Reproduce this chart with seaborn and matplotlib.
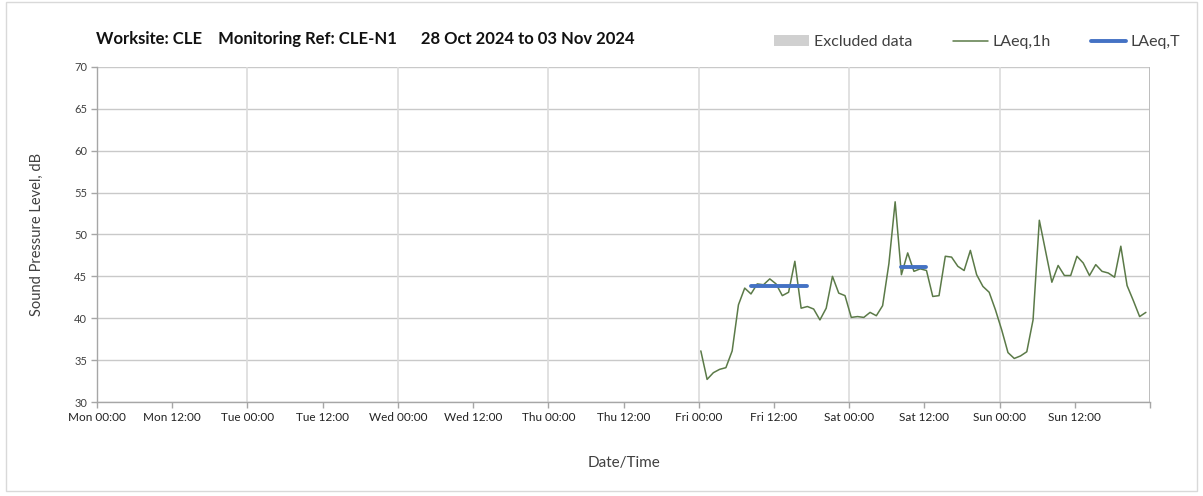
import matplotlib
matplotlib.use("Agg")
import matplotlib.pyplot as plt
from matplotlib.patches import Patch, Rectangle
from matplotlib.lines import Line2D
import seaborn as sns
import pandas as pd

# hourly LAeq,1h values, Fri 01 Nov 00:20 onwards
start_time = "2024-11-01 00:20"
laeq_1h = [36.1, 32.7, 33.5, 33.9, 34.1, 36.1, 41.6, 43.6, 42.9, 44.1,
           44.0, 44.7, 44.1, 42.7, 43.1, 46.8, 41.2, 41.4, 41.1, 39.8,
           41.2, 45.0, 43.0, 42.7, 40.1, 40.2, 40.1, 40.7, 40.3, 41.5,
           46.5, 53.9, 45.2, 47.8, 45.6, 45.9, 45.7, 42.6, 42.7, 47.4,
           47.3, 46.2, 45.7, 48.1, 45.2, 43.8, 43.1, 41.0, 38.6, 35.9,
           35.2, 35.5, 36.0, 39.8, 51.7, 48.0, 44.3, 46.3, 45.1, 45.1,
           47.4, 46.6, 45.1, 46.4, 45.6, 45.4, 44.9, 48.6, 43.9, 42.1,
           40.2, 40.7]

# LAeq,T periods (start, end, level)
laeq_t_start = ["2024-11-01 08:20", "2024-11-02 08:20"]
laeq_t_end = ["2024-11-01 17:20", "2024-11-02 12:20"]
laeq_t_value = [43.8, 46.1]

week_start = "2024-10-28 00:00"
week_end = "2024-11-04 00:00"
y_ticks = [30, 35, 40, 45, 50, 55, 60, 65, 70]

title = "Worksite: CLE    Monitoring Ref: CLE-N1      28 Oct 2024 to 03 Nov 2024"

green = "#5b7a48"
blue = "#4472c4"
grey_text = "#404040"

sns.set_theme(style="white")
plt.rcParams['font.family'] = ['Lato', 'DejaVu Sans']

df = pd.DataFrame({
    "time": pd.date_range(start_time, periods=len(laeq_1h), freq="h"),
    "level": laeq_1h,
})

rows = []
for i in range(len(laeq_t_value)):
    rows.append((i, pd.Timestamp(laeq_t_start[i]), laeq_t_value[i]))
    rows.append((i, pd.Timestamp(laeq_t_end[i]), laeq_t_value[i]))
df_t = pd.DataFrame(rows, columns=["period", "time", "level"])

fig = plt.figure(figsize=(12.03, 4.96), dpi=100)
ax = fig.add_axes([0.0806, 0.1895, 0.8754, 0.6755])

# gridlines
for v in y_ticks:
    ax.axhline(v, color="#c9c9c9", lw=1.0, zorder=0)
for d in pd.date_range(week_start, week_end, freq="D"):
    ax.axvline(d, color="#dcdcdc", lw=1.2, zorder=0)

sns.lineplot(data=df, x="time", y="level", ax=ax, color=green, lw=1.1, zorder=3)
sns.lineplot(data=df_t, x="time", y="level", units="period", estimator=None,
             ax=ax, color=blue, lw=2.8, zorder=4)

ax.set_xlim(pd.Timestamp(week_start), pd.Timestamp(week_end))
ax.set_ylim(30, 70)
ax.set_yticks(y_ticks)
ax.set_yticklabels([str(v) for v in y_ticks], fontsize=8, color=grey_text)

xt = pd.date_range(week_start, week_end, freq="12h")
ax.set_xticks(xt)
ax.set_xticklabels([t.strftime("%a %H:%M") for t in xt[:-1]] + [""], fontsize=8.5, color="#222222")

ax.tick_params(axis="both", which="both", direction="out", length=4, width=1,
               color="#a6a6a6", bottom=True, left=True, pad=3)

for side in ["top", "right"]:
    ax.spines[side].set_visible(False)
for side in ["left", "bottom"]:
    ax.spines[side].set_color("#a6a6a6")
    ax.spines[side].set_linewidth(1.0)
ax.axvline(pd.Timestamp(week_end), color="#b8b8b8", lw=1.2, zorder=1)

ax.set_xlabel("Date/Time", fontsize=11, color=grey_text, labelpad=24)
ax.set_ylabel("Sound Pressure Level, dB", fontsize=10.5, color=grey_text, labelpad=22)

fig.text(0.0795, 0.922, title, fontsize=12, fontweight="bold", color="#111111",
         ha="left", va="center")

handles = [
    Patch(facecolor="#d0d0d0", edgecolor="none", label="Excluded data"),
    Line2D([0], [0], color=green, lw=1.1, label="LAeq,1h"),
    Line2D([0], [0], color=blue, lw=2.8, label="LAeq,T"),
]
leg = fig.legend(handles=handles, loc="center right", bbox_to_anchor=(0.993, 0.915),
                 ncol=3, frameon=False, fontsize=11.5, handlelength=2.2,
                 handletextpad=0.3, columnspacing=2.5)
for t in leg.get_texts():
    t.set_color(grey_text)

# outer chart frame
fig.patches.append(Rectangle((0.005, 0.01), 0.99, 0.985, transform=fig.transFigure,
                             fill=False, edgecolor="#d9d9d9", lw=1.0))

fig.savefig("out.png", dpi=100)
